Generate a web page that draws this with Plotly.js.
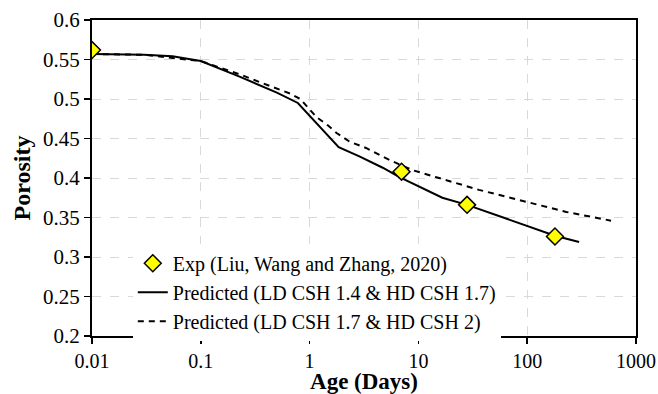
<!DOCTYPE html>
<html>
<head>
<meta charset="utf-8">
<script src="https://cdn.plot.ly/plotly-3.0.1.min.js"></script>
<style>html,body{margin:0;padding:0;background:#fff;}#chart{width:658px;height:394px;}</style>
</head>
<body>
<div id="chart"></div>
<script>
const expAge = [0.01, 7, 28, 180];
const expPorosity = [0.562, 0.408, 0.366, 0.326];

const solidAge = [0.01, 0.03, 0.055, 0.1, 0.23, 0.5, 0.78, 1.85, 2.9, 4.7, 6.7, 9.5, 16.6, 28, 100, 180, 300];
const solidPorosity = [0.557, 0.556, 0.554, 0.548, 0.528, 0.508, 0.495, 0.439, 0.427, 0.413, 0.401, 0.391, 0.375, 0.366, 0.339, 0.327, 0.319];

const dashAge = [0.01, 0.03, 0.1, 0.23, 0.44, 0.66, 0.82, 1.16, 1.46, 1.77, 2.33, 3.3, 5.4, 8.8, 14.6, 36, 104, 229, 590];
const dashPorosity = [0.557, 0.556, 0.548, 0.531, 0.516, 0.507, 0.500, 0.477, 0.467, 0.457, 0.446, 0.438, 0.423, 0.410, 0.401, 0.385, 0.369, 0.357, 0.346];

const names = [
  "Exp (Liu, Wang and Zhang, 2020)",
  "Predicted (LD CSH 1.4 & HD CSH 1.7)",
  "Predicted (LD CSH 1.7 & HD CSH 2)"
];
const xTickVals = [0.01, 0.1, 1, 10, 100, 1000];
const xTickText = ["0.01", "0.1", "1", "10", "100", "1000"];
const yTickVals = [0.2, 0.25, 0.3, 0.35, 0.4, 0.45, 0.5, 0.55, 0.6];
const yTickText = ["0.2", "0.25", "0.3", "0.35", "0.4", "0.45", "0.5", "0.55", "0.6"];

const font = "Liberation Serif";

const traces = [
  {x: solidAge, y: solidPorosity, mode: "lines", name: names[1],
   line: {color: "#000", width: 2}, legendrank: 2},
  {x: dashAge, y: dashPorosity, mode: "lines", name: names[2],
   line: {color: "#000", width: 2, dash: "6px,5px"}, legendrank: 3},
  {x: expAge, y: expPorosity, mode: "markers", name: names[0],
   marker: {symbol: "diamond", size: 13, color: "#ffff00", line: {color: "#000", width: 1.5}}, legendrank: 1}
];

const layout = {
  width: 658, height: 394,
  margin: {l: 92, r: 22, t: 20, b: 58},
  paper_bgcolor: "#fff", plot_bgcolor: "#fff",
  font: {family: font, size: 18, color: "#000"},
  showlegend: true,
  legend: {x: 0.075, y: 0.292, xanchor: "left", yanchor: "top",
           bgcolor: "#fff", font: {family: font, size: 20, color: "#000"},
           tracegroupgap: 0},
  xaxis: {type: "log", range: [-2, 3], tickvals: xTickVals, ticktext: xTickText,
          showgrid: true, gridcolor: "#d9d9d9", griddash: "dash", gridwidth: 1,
          showline: true, linecolor: "#000", linewidth: 2, mirror: true,
          ticks: "outside", ticklen: 6, tickwidth: 1.5, tickcolor: "#000",
          tickfont: {family: font, size: 20}, zeroline: false,
          title: {text: "<b>Age (Days)</b>", font: {family: font, size: 23}, standoff: 6}},
  yaxis: {range: [0.2, 0.6], tickvals: yTickVals, ticktext: yTickText,
          showgrid: true, gridcolor: "#d9d9d9", griddash: "dash", gridwidth: 1,
          showline: true, linecolor: "#000", linewidth: 2, mirror: true,
          ticks: "outside", ticklen: 6, tickwidth: 1.5, tickcolor: "#000",
          tickfont: {family: font, size: 21}, zeroline: false,
          title: {text: "<b>Porosity</b>", font: {family: font, size: 24}, standoff: 6}}
};

Plotly.newPlot("chart", traces, layout, {displayModeBar: false, staticPlot: true});
</script>
</body>
</html>
